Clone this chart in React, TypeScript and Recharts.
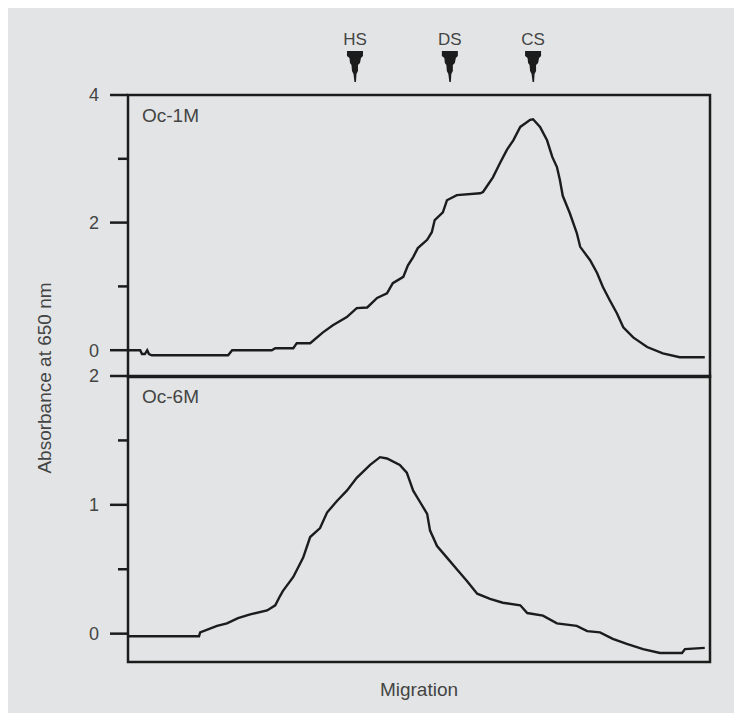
import React from "react";
import {
  LineChart,
  Line,
  XAxis,
  YAxis,
  ReferenceArea,
  ReferenceDot,
} from "recharts";

// migration position (0-100 across the panel) and absorbance readings
const TOP_X = [0, 2.1, 2.4, 2.9, 3.3, 3.6, 4.1, 17.2, 17.9, 24.7, 25.3, 28.4, 29.0, 31.3, 33.5, 35.2, 37.6, 39.3, 41.1, 42.8, 44.5, 45.5, 47.3, 48.1, 49.0, 49.8, 51.4, 52.2, 52.7, 54.1, 54.8, 56.5, 60.5, 61.0, 62.7, 63.9, 65.1, 66.2, 67.4, 69.1, 69.6, 70.8, 72.0, 72.9, 73.7, 74.2, 74.7, 75.9, 77.1, 77.7, 79.4, 80.6, 81.6, 82.8, 84.0, 85.1, 86.8, 89.2, 91.9, 94.8, 99.1];
const TOP_Y = [0, 0, -0.06, -0.06, 0, -0.06, -0.08, -0.08, 0, 0, 0.03, 0.03, 0.11, 0.11, 0.28, 0.39, 0.52, 0.66, 0.67, 0.82, 0.89, 1.05, 1.15, 1.33, 1.46, 1.6, 1.73, 1.85, 2.04, 2.16, 2.35, 2.43, 2.46, 2.48, 2.71, 2.93, 3.14, 3.29, 3.5, 3.61, 3.62, 3.5, 3.29, 3.03, 2.87, 2.67, 2.42, 2.15, 1.84, 1.62, 1.41, 1.21, 0.99, 0.78, 0.58, 0.36, 0.2, 0.05, -0.05, -0.11, -0.11];

const BOT_X = [0, 12.2, 12.4, 15.3, 17.0, 18.9, 21.0, 23.9, 25.3, 26.1, 26.6, 28.4, 30.1, 31.3, 33.0, 34.2, 35.9, 37.6, 39.3, 41.6, 43.3, 44.5, 46.7, 47.9, 49.0, 50.2, 51.4, 51.9, 53.1, 54.8, 56.5, 58.2, 60.0, 62.2, 64.4, 67.4, 68.6, 71.3, 73.7, 77.1, 78.9, 81.1, 83.3, 85.7, 88.5, 91.4, 95.2, 95.7, 99.1];
const BOT_Y = [-0.02, -0.02, 0.01, 0.06, 0.08, 0.12, 0.15, 0.18, 0.22, 0.29, 0.33, 0.44, 0.59, 0.75, 0.82, 0.94, 1.03, 1.11, 1.21, 1.31, 1.37, 1.36, 1.31, 1.25, 1.11, 1.02, 0.93, 0.8, 0.68, 0.59, 0.5, 0.41, 0.31, 0.27, 0.24, 0.22, 0.16, 0.14, 0.08, 0.06, 0.02, 0.01, -0.04, -0.08, -0.12, -0.15, -0.15, -0.12, -0.11];

const MARKER_NAMES = ["HS", "DS", "CS"];
const MARKER_X = [39.0, 55.3, 69.6];

const TOP_TICKS = [0, 1, 2, 3, 4];
const TOP_MAJOR = [0, 2, 4];
const BOT_TICKS = [0, 0.5, 1, 1.5, 2];
const BOT_MAJOR = [0, 1, 2];

const INK = "#1c1c1c";
const TEXT = "#444444";
const BG = "#e3e4e5";
const FONT = "'Liberation Sans', Arial, sans-serif";

const topRows = TOP_X.map((x, i) => ({ x, y: TOP_Y[i] }));
const botRows = BOT_X.map((x, i) => ({ x, y: BOT_Y[i] }));

function AxisTick(props: any) {
  const { x, y, payload, majors } = props;
  const major = majors.includes(payload.value);
  return (
    <g>
      <line x1={x - (major ? 18 : 10)} y1={y} x2={x} y2={y} stroke={INK} strokeWidth={2.5} />
      {major && (
        <text x={x - 29} y={y} dy="0.36em" textAnchor="end" fontSize={18} fill={TEXT} fontFamily={FONT}>
          {payload.value}
        </text>
      )}
    </g>
  );
}

function Marker(props: any) {
  const { cx, cy, name } = props;
  const top = cy - 44;
  return (
    <g>
      <text x={cx} y={cy - 56} dy="0.36em" textAnchor="middle" fontSize={17} fill={TEXT} fontFamily={FONT}>
        {name}
      </text>
      <path
        transform={`translate(${cx},${top})`}
        d="M -8 0 L 8 0 L 8 5 L 6 7 L 5 12 L 3 14 L 3 20 L 1.5 23 L 1 31 L -0.5 31 L -1.5 23 L -3 20 L -3.5 14 L -5 12 L -5.5 7 L -8 5 Z"
        fill={INK}
      />
    </g>
  );
}

const TOP_DOMAIN: [number, number] = [-0.42, 4];
const BOT_DOMAIN: [number, number] = [-0.22, 2];

export default function App() {
  return (
    <div style={{ position: "relative", width: 727, height: 705, background: BG }}>
      <div style={{ position: "absolute", left: 0, top: 0 }}>
        <LineChart width={727} height={373} data={topRows} margin={{ top: 87, right: 25, bottom: 4, left: 80 }}>
          <XAxis type="number" dataKey="x" domain={[0, 100]} hide allowDataOverflow />
          <YAxis
            type="number"
            domain={TOP_DOMAIN}
            ticks={TOP_TICKS}
            interval={0}
            width={40}
            allowDataOverflow
            axisLine={false}
            tickLine={false}
            tickSize={0}
            tickMargin={0}
            tick={(p: any) => <AxisTick {...p} majors={TOP_MAJOR} />}
          />
          <ReferenceArea
            x1={0}
            x2={100}
            y1={TOP_DOMAIN[0]}
            y2={TOP_DOMAIN[1]}
            fill="none"
            stroke={INK}
            strokeWidth={2.5}
            label={{ value: "Oc-1M", position: "insideTopLeft", offset: 14, fontSize: 19, fill: TEXT, fontFamily: FONT }}
          />
          {MARKER_NAMES.map((name, i) => (
            <ReferenceDot
              key={name}
              x={MARKER_X[i]}
              y={TOP_DOMAIN[1]}
              r={0}
              ifOverflow="visible"
              shape={(p: any) => <Marker {...p} name={name} />}
            />
          ))}
          <Line
            type="linear"
            dataKey="y"
            stroke={INK}
            strokeWidth={2.4}
            dot={false}
            isAnimationActive={false}
          />
        </LineChart>
      </div>
      <div style={{ position: "absolute", left: 0, top: 340 }}>
        <LineChart width={727} height={354} data={botRows} margin={{ top: 28, right: 25, bottom: 0, left: 80 }}>
          <XAxis
            type="number"
            dataKey="x"
            domain={[0, 100]}
            allowDataOverflow
            height={40}
            axisLine={false}
            tickLine={false}
            tick={false}
            label={{ value: "Migration", position: "insideBottom", offset: 6, fontSize: 19, fill: TEXT, fontFamily: FONT }}
          />
          <YAxis
            type="number"
            domain={BOT_DOMAIN}
            ticks={BOT_TICKS}
            interval={0}
            width={40}
            allowDataOverflow
            axisLine={false}
            tickLine={false}
            tickSize={0}
            tickMargin={0}
            tick={(p: any) => <AxisTick {...p} majors={BOT_MAJOR} />}
          />
          <ReferenceArea
            x1={0}
            x2={100}
            y1={BOT_DOMAIN[0]}
            y2={BOT_DOMAIN[1]}
            fill="none"
            stroke={INK}
            strokeWidth={2.5}
            label={{ value: "Oc-6M", position: "insideTopLeft", offset: 14, fontSize: 19, fill: TEXT, fontFamily: FONT }}
          />
          <Line
            type="linear"
            dataKey="y"
            stroke={INK}
            strokeWidth={2.4}
            dot={false}
            isAnimationActive={false}
          />
        </LineChart>
      </div>
      <svg
        width={727}
        height={705}
        style={{ position: "absolute", left: 0, top: 0, pointerEvents: "none" }}
      >
        <text
          transform="translate(36,370) rotate(-90)"
          textAnchor="middle"
          dy="0.36em"
          fontSize={19}
          fill={TEXT}
          fontFamily={FONT}
        >
          Absorbance at 650 nm
        </text>
      </svg>
    </div>
  );
}
